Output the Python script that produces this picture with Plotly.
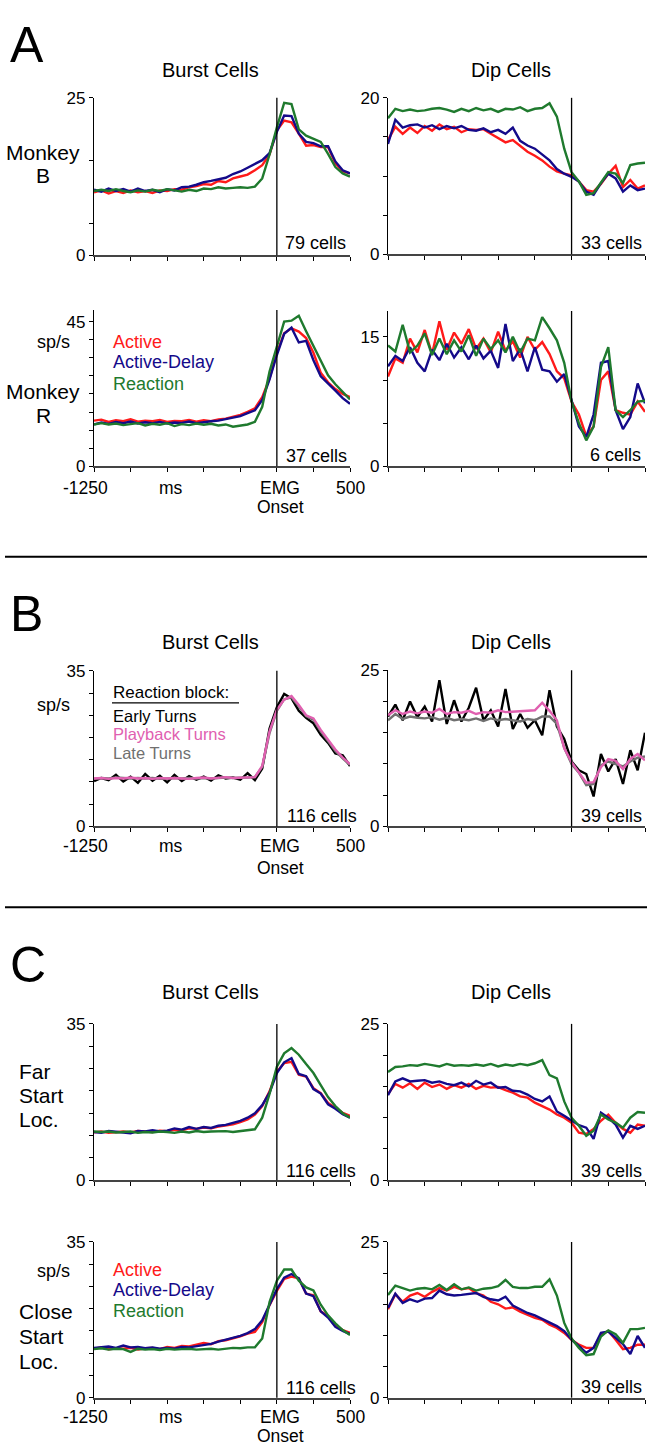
import plotly.graph_objects as go

W, H = 647, 1456
FONT = "Arial, Liberation Sans, sans-serif"

RED = "#ff1a1a"
BLUE = "#140a8a"
GREEN = "#1f7a2e"
PINK = "#e060b0"
GRAY = "#707070"
BLACK = "#000000"

times = [-1250, -1200, -1150, -1100, -1050, -1000, -950, -900, -850, -800, -750, -700,
         -650, -600, -550, -500, -450, -400, -350, -300, -250, -200, -150, -100,
         -50, 0, 50, 100, 150, 200, 250, 300, 350, 400, 450, 500]
x_ticks = [-1250, -1000, -750, -500, -250, 0, 250, 500]

# ---- Panel A, Monkey B, Burst cells (79 cells)
aB_burst_active = [10.0, 10.3, 9.8, 10.2, 9.9, 10.3,
                   10.0, 10.2, 9.9, 10.3, 10.2, 10.5,
                   10.4, 10.8, 11.0, 11.3, 11.2, 11.8,
                   11.6, 12.2, 12.5, 12.8, 13.5, 14.3,
                   16.0, 19.8, 21.4, 21.1, 19.3, 17.4,
                   17.5, 17.2, 17.2, 14.6, 13.3, 13.0]
aB_burst_delay = [10.4, 10.1, 10.6, 10.2, 10.5, 10.1,
                  10.6, 10.2, 10.4, 10.0, 10.5, 10.3,
                  10.8, 10.9, 11.2, 11.6, 11.8, 12.0,
                  12.3, 12.9, 13.3, 13.9, 14.5, 15.1,
                  16.2, 19.6, 22.2, 22.1, 19.3, 18.0,
                  17.8, 17.3, 17.3, 14.9, 13.5, 13.0]
aB_burst_react = [10.2, 10.4, 10.2, 10.5, 10.2, 10.0,
                  10.3, 10.1, 10.4, 10.2, 10.5, 10.3,
                  10.1, 10.4, 10.2, 10.6, 10.5, 10.8,
                  10.6, 10.7, 10.8, 10.7, 10.9, 12.2,
                  16.0, 20.3, 24.2, 24.0, 20.0, 19.0,
                  18.5, 18.0, 16.1, 14.0, 13.0, 12.5]

# ---- Panel A, Monkey B, Dip cells (33 cells)
aB_dip_active = [14.6, 16.3, 15.4, 16.2, 15.5, 16.4,
                 15.8, 16.6, 16.0, 16.3, 15.6, 16.0,
                 15.9, 16.0, 15.4, 14.8, 14.3, 14.6,
                 13.9, 13.1, 12.6, 12.0, 11.2, 10.6,
                 10.3, 10.1, 9.3, 8.2, 8.0, 9.0,
                 10.3, 11.3, 8.6, 9.5, 8.4, 8.8]
aB_dip_delay = [14.1, 17.2, 16.2, 16.5, 16.6, 16.2,
                16.5, 16.0, 16.4, 16.1, 16.4, 15.9,
                15.8, 16.1, 15.6, 15.9, 15.4, 16.2,
                14.5, 13.9, 13.5, 12.8, 12.0, 10.9,
                10.3, 9.9, 9.3, 8.0, 7.6, 9.1,
                10.3, 9.7, 8.0, 8.8, 8.2, 8.4]
aB_dip_react = [17.4, 18.6, 18.3, 18.5, 18.3, 18.4,
                18.6, 18.7, 18.5, 18.2, 18.6, 18.3,
                18.7, 18.4, 18.6, 18.2, 18.6, 18.5,
                18.8, 18.3, 18.6, 18.7, 19.3, 17.6,
                13.5, 10.5, 9.3, 7.6, 7.8, 9.1,
                10.5, 10.3, 9.1, 11.4, 11.6, 11.7]

# ---- Panel A, Monkey R, Burst cells (37 cells)
aR_burst_active = [14.2, 14.5, 13.8, 14.3, 14.0, 14.6,
                   13.9, 14.2, 14.0, 14.4, 13.8, 14.1,
                   14.0, 14.4, 13.9, 14.3, 14.0, 14.6,
                   14.8, 15.3, 16.0, 16.9, 18.0, 21.5,
                   27.3, 35.3, 41.4, 42.9, 41.9, 39.9,
                   35.3, 29.1, 26.1, 24.0, 22.5, 21.5]
aR_burst_delay = [13.0, 13.6, 13.2, 13.8, 13.4, 13.9,
                  13.3, 13.7, 13.4, 13.8, 13.3, 13.6,
                  13.5, 13.9, 13.4, 13.8, 14.0, 14.2,
                  14.6, 15.0, 15.6, 16.5, 17.4, 20.6,
                  27.0, 34.6, 41.2, 43.1, 38.5, 39.0,
                  33.0, 28.0, 25.6, 23.5, 21.2, 19.4]
aR_burst_react = [13.0, 13.4, 13.0, 13.3, 12.8, 13.1,
                  13.4, 12.7, 13.2, 12.9, 13.4, 12.5,
                  13.1, 12.8, 13.3, 12.9, 13.2, 12.7,
                  13.0, 12.3, 12.6, 13.0, 13.8, 18.5,
                  29.5, 37.3, 45.0, 45.3, 46.8, 42.0,
                  37.5, 32.5, 28.3, 25.5, 23.0, 20.8]

# ---- Panel A, Monkey R, Dip cells (6 cells)
aR_dip_active = [10.4, 12.5, 12.0, 14.8, 13.2, 15.8,
                 13.0, 16.8, 13.5, 15.5, 14.2, 15.9,
                 13.6, 14.8, 13.2, 15.6, 13.4, 14.5,
                 12.6, 15.0, 13.5, 14.4, 13.0, 11.0,
                 10.2, 7.5, 6.0, 3.5, 4.6, 10.0,
                 11.0, 6.5, 6.2, 6.0, 7.5, 6.3]
aR_dip_delay = [11.6, 12.8, 12.2, 13.8, 12.0, 11.0,
                13.5, 12.3, 14.2, 12.6, 13.8, 12.4,
                14.0, 12.5, 13.4, 11.4, 16.5, 12.2,
                13.6, 11.0, 13.8, 11.2, 11.0, 9.8,
                10.7, 7.6, 4.6, 3.4, 6.0, 12.0,
                12.2, 6.5, 4.3, 5.7, 9.6, 7.3]
aR_dip_react = [14.0, 13.3, 16.4, 13.2, 14.0, 15.4,
                12.9, 14.8, 13.0, 14.6, 13.3, 15.2,
                12.8, 14.8, 13.6, 14.6, 13.2, 15.0,
                13.2, 14.8, 14.6, 17.3, 16.0, 14.6,
                12.0, 7.5, 5.0, 3.0, 4.6, 11.5,
                13.8, 6.5, 5.7, 6.5, 7.5, 7.6]

# ---- Panel B, Burst cells (116 cells)
b_burst_early = [10.2, 10.9, 10.4, 11.6, 10.1, 11.2,
                 9.8, 11.8, 10.3, 11.4, 9.9, 11.6,
                 10.2, 11.3, 10.5, 11.2, 10.3, 11.5,
                 10.8, 11.0, 10.5, 12.0, 10.4, 13.0,
                 22.0, 26.8, 29.8, 28.8, 26.0, 24.4,
                 23.2, 20.6, 18.8, 16.4, 16.0, 13.6]
b_burst_late = [10.7, 10.9, 10.8, 11.0, 10.9, 10.8,
                10.9, 10.8, 10.9, 10.7, 10.8, 10.9,
                10.8, 10.9, 10.8, 10.9, 10.8, 10.9,
                11.0, 10.9, 10.9, 11.0, 11.1, 13.4,
                21.0, 26.0, 28.6, 29.0, 27.0, 24.8,
                24.0, 21.4, 19.2, 17.0, 15.3, 13.8]
b_burst_playback = [10.8, 10.9, 10.7, 10.9, 10.8, 11.0,
                    10.8, 10.9, 10.7, 10.9, 10.8, 10.9,
                    10.8, 10.7, 10.9, 11.0, 10.8, 10.9,
                    11.1, 10.9, 11.0, 11.1, 11.1, 13.6,
                    21.4, 26.2, 28.5, 29.3, 27.3, 25.0,
                    24.3, 21.7, 19.5, 17.3, 15.5, 14.0]

# ---- Panel B, Dip cells (39 cells)
b_dip_early = [17.6, 19.5, 17.0, 20.0, 17.5, 19.2,
               16.8, 23.4, 16.4, 20.2, 16.8, 19.0,
               22.2, 17.0, 18.6, 16.0, 22.0, 15.6,
               18.0, 15.8, 17.0, 14.6, 21.8, 16.0,
               14.0, 10.4, 9.0, 8.4, 4.8, 11.6,
               8.8, 10.8, 6.8, 12.2, 9.0, 15.0]
b_dip_late = [17.0, 18.0, 17.2, 17.6, 17.4, 17.3,
              17.5, 17.1, 17.4, 17.0, 17.2, 17.0,
              17.3, 16.9, 17.3, 17.0, 17.2, 17.0,
              16.8, 17.2, 17.0, 17.6, 17.6, 16.4,
              12.6, 10.0, 8.6, 6.6, 6.8, 9.8,
              10.4, 10.0, 9.6, 10.4, 11.0, 11.2]
b_dip_playback = [17.8, 18.6, 18.0, 18.4, 18.1, 18.4,
                  18.2, 18.8, 18.0, 18.3, 18.2, 18.5,
                  18.0, 18.3, 18.2, 18.6, 18.3, 18.4,
                  18.4, 18.5, 18.6, 19.8, 18.5, 17.0,
                  12.5, 10.3, 8.6, 7.0, 7.1, 9.5,
                  10.8, 10.5, 9.2, 10.8, 11.6, 10.6]

# ---- Panel C, Far start location, Burst cells (116 cells)
cF_burst_active = [10.7, 10.9, 10.6, 10.8, 10.9, 10.7,
                   11.0, 10.9, 10.8, 11.1, 11.0, 11.3,
                   11.2, 11.6, 11.5, 11.8, 11.6, 12.0,
                   12.2, 12.5, 13.0, 13.6, 14.7, 16.6,
                   19.9, 24.3, 26.2, 26.5, 23.6, 23.2,
                   20.6, 19.5, 17.3, 16.2, 15.1, 14.4]
cF_burst_delay = [10.8, 10.6, 11.0, 10.8, 10.7, 10.5,
                  11.0, 10.9, 11.2, 10.9, 11.1, 11.6,
                  11.3, 11.9, 11.5, 11.9, 11.7, 12.2,
                  12.4, 12.8, 13.3, 14.0, 15.0, 16.8,
                  19.6, 24.0, 26.4, 27.3, 23.8, 23.3,
                  20.4, 19.4, 17.0, 16.0, 14.8, 14.0]
cF_burst_react = [10.9, 10.8, 10.9, 10.7, 10.8, 10.9,
                  10.6, 10.8, 10.7, 10.9, 10.8, 10.6,
                  10.9, 10.7, 11.0, 10.8, 10.9, 11.0,
                  11.0, 10.8, 11.0, 11.1, 11.4, 14.0,
                  19.3, 25.4, 28.4, 29.6, 28.1, 26.0,
                  24.0, 21.3, 18.6, 16.6, 15.0, 14.0]

# ---- Panel C, Far start location, Dip cells (39 cells)
cF_dip_active = [13.8, 15.4, 14.8, 15.5, 14.6, 15.6,
                 14.9, 15.3, 14.6, 15.2, 14.8, 15.4,
                 14.6, 15.1, 14.8, 14.9, 14.4, 14.0,
                 13.4, 13.2, 12.4, 11.8, 11.3, 10.5,
                 10.0, 9.2, 7.6, 7.4, 8.2, 9.5,
                 10.5, 9.2, 8.2, 7.6, 8.9, 8.7]
cF_dip_delay = [13.6, 15.8, 16.3, 15.8, 15.9, 16.0,
                15.6, 15.8, 15.4, 15.2, 15.6, 15.0,
                15.9, 15.3, 15.6, 14.8, 14.9, 14.3,
                14.2, 13.7, 13.0, 12.6, 13.4, 11.0,
                10.3, 9.5, 8.8, 8.4, 6.6, 10.8,
                10.0, 8.9, 6.8, 8.7, 8.2, 8.7]
cF_dip_react = [17.3, 18.1, 18.2, 18.4, 18.3, 18.6,
                18.4, 18.2, 18.6, 18.3, 18.4, 18.3,
                18.5, 18.3, 18.6, 18.2, 18.5, 18.3,
                18.6, 18.4, 18.7, 19.2, 16.8, 16.3,
                12.6, 10.0, 8.7, 7.1, 7.9, 10.5,
                9.7, 9.2, 8.4, 10.0, 10.9, 10.8]

# ---- Panel C, Close start location, Burst cells (116 cells)
cC_burst_active = [11.0, 11.3, 10.9, 11.1, 11.0, 11.2,
                   10.8, 11.1, 11.2, 10.9, 11.4, 11.2,
                   11.6, 11.5, 11.9, 12.3, 12.0, 12.7,
                   12.9, 13.3, 13.8, 14.4, 14.8, 17.0,
                   20.8, 24.0, 26.7, 27.2, 26.8, 23.4,
                   23.0, 19.4, 18.3, 16.2, 15.2, 14.6]
cC_burst_delay = [11.2, 11.4, 11.5, 11.2, 11.7, 11.3,
                  11.4, 11.1, 11.3, 11.0, 11.2, 11.0,
                  11.4, 11.3, 11.6, 11.9, 12.1, 12.6,
                  13.0, 13.4, 13.9, 14.5, 15.4, 17.4,
                  21.0, 24.4, 27.0, 27.8, 26.8, 23.4,
                  22.8, 19.4, 18.0, 15.9, 15.0, 14.3]
cC_burst_react = [10.9, 11.1, 10.8, 11.0, 10.9, 10.3,
                  11.0, 10.8, 10.9, 10.7, 11.0, 10.8,
                  10.9, 11.0, 10.8, 10.9, 11.0, 10.8,
                  11.0, 11.2, 11.1, 11.3, 11.3, 13.3,
                  21.5, 26.3, 28.8, 28.8, 26.3, 24.8,
                  24.1, 20.9, 18.5, 16.7, 15.2, 14.1]

# ---- Panel C, Close start location, Dip cells (39 cells)
cC_dip_active = [14.2, 16.6, 15.4, 16.4, 16.8, 16.2,
                 17.0, 17.6, 17.2, 17.8, 17.4, 17.6,
                 16.8, 16.4, 15.4, 15.0, 14.3, 14.5,
                 13.8, 13.3, 12.8, 12.5, 11.7, 11.2,
                 10.4, 9.3, 8.5, 8.0, 8.0, 10.1,
                 10.7, 9.3, 7.8, 8.0, 8.5, 8.5]
cC_dip_delay = [14.4, 16.7, 15.2, 15.8, 15.4, 15.9,
                16.0, 17.2, 16.6, 16.4, 16.5, 16.6,
                16.8, 16.2, 15.8, 15.6, 16.2, 14.8,
                14.2, 13.6, 13.2, 12.6, 12.0, 11.5,
                10.7, 9.3, 8.3, 7.2, 8.0, 10.4,
                10.6, 9.6, 8.6, 7.0, 9.9, 8.0]
cC_dip_react = [16.5, 18.0, 17.6, 17.2, 17.5, 17.6,
                17.4, 18.1, 17.3, 18.2, 17.4, 17.7,
                17.2, 17.5, 17.6, 17.9, 18.9, 17.8,
                17.6, 17.6, 17.8, 17.8, 19.0, 16.4,
                12.0, 9.5, 8.0, 6.8, 7.0, 9.8,
                10.8, 10.2, 8.8, 11.0, 11.0, 11.2]

cell_counts = ["79 cells", "33 cells", "37 cells", "6 cells", "116 cells",
               "39 cells", "116 cells", "39 cells", "116 cells", "39 cells"]


def ticks_every(step, top):
    v, out = 0.0, []
    while v <= top + 1e-9:
        out.append(round(v, 4))
        v += step
    return out


L_X = (94, 350)
R_X = (388, 645)

panels = [
    dict(x=L_X, top=90, bot=249.5, ymax=25, tv=[0, 5, 15, 25], lab={0: "0", 25: "25"},
         series=[(aB_burst_active, RED), (aB_burst_delay, BLUE), (aB_burst_react, GREEN)]),
    dict(x=R_X, top=90, bot=248.5, ymax=20, tv=ticks_every(5, 20), lab={0: "0", 20: "20"},
         series=[(aB_dip_active, RED), (aB_dip_delay, BLUE), (aB_dip_react, GREEN)]),
    dict(x=L_X, top=305, bot=463.3, ymax=48.6, tv=ticks_every(5.625, 45), lab={0: "0", 45: "45"},
         series=[(aR_burst_active, RED), (aR_burst_delay, BLUE), (aR_burst_react, GREEN)]),
    dict(x=R_X, top=306, bot=463.3, ymax=18, tv=ticks_every(5, 15), lab={0: "0", 15: "15"},
         series=[(aR_dip_active, RED), (aR_dip_delay, BLUE), (aR_dip_react, GREEN)]),
    dict(x=L_X, top=670.5, bot=828.3, ymax=35, tv=ticks_every(5, 35), lab={0: "0", 35: "35"},
         series=[(b_burst_early, BLACK), (b_burst_late, GRAY), (b_burst_playback, PINK)]),
    dict(x=R_X, top=670, bot=828.3, ymax=25, tv=ticks_every(5, 25), lab={0: "0", 25: "25"},
         series=[(b_dip_early, BLACK), (b_dip_late, GRAY), (b_dip_playback, PINK)]),
    dict(x=L_X, top=1028.3, bot=1186.7, ymax=35, tv=ticks_every(5, 35), lab={0: "0", 35: "35"},
         series=[(cF_burst_active, RED), (cF_burst_delay, BLUE), (cF_burst_react, GREEN)]),
    dict(x=R_X, top=1028.3, bot=1186.7, ymax=25, tv=ticks_every(5, 25), lab={0: "0", 25: "25"},
         series=[(cF_dip_active, RED), (cF_dip_delay, BLUE), (cF_dip_react, GREEN)]),
    dict(x=L_X, top=1249.3, bot=1407, ymax=35, tv=ticks_every(5, 35), lab={0: "0", 35: "35"},
         series=[(cC_burst_active, RED), (cC_burst_delay, BLUE), (cC_burst_react, GREEN)]),
    dict(x=R_X, top=1249.3, bot=1407, ymax=25, tv=ticks_every(5, 25), lab={0: "0", 25: "25"},
         series=[(cC_dip_active, RED), (cC_dip_delay, BLUE), (cC_dip_react, GREEN)]),
]

for p in panels:
    for s, _ in p["series"]:
        assert len(s) == len(times), len(s)


def px(x):
    return x / W


def py(y):
    return 1 - y / H


fig = go.Figure()
layout = dict(width=W, height=H, margin=dict(l=0, r=0, t=0, b=0),
              paper_bgcolor="white", plot_bgcolor="white", showlegend=False,
              font=dict(family=FONT, size=18, color="black"))
shapes = []
annotations = []

for k, p in enumerate(panels, start=1):
    xs = "" if k == 1 else str(k)
    for s, c in p["series"]:
        fig.add_trace(go.Scatter(x=times, y=s, mode="lines", xaxis="x" + xs, yaxis="y" + xs,
                                 line=dict(color=c, width=2.4), hoverinfo="skip"))
    layout["xaxis" + xs] = dict(
        domain=[px(p["x"][0]), px(p["x"][1])], range=[-1250, 500], anchor="y" + xs,
        tickvals=x_ticks, showticklabels=False, ticks="outside", ticklen=4, tickwidth=1.2,
        tickcolor="black", showline=True, linecolor="#444444", linewidth=1.8,
        showgrid=False, zeroline=False, fixedrange=True)
    layout["yaxis" + xs] = dict(
        domain=[py(p["bot"]), py(p["top"])], range=[0, p["ymax"]], anchor="x" + xs,
        tickvals=p["tv"], ticktext=[p["lab"].get(v, "") for v in p["tv"]],
        ticks="outside", ticklen=4, tickwidth=1.2, tickcolor="black",
        showline=True, linecolor="black", linewidth=1.3,
        showgrid=False, zeroline=False, tickfont=dict(size=17, family=FONT),
        fixedrange=True)
    shapes.append(dict(type="line", xref="x" + xs, yref=("y" + xs) + " domain",
                       x0=0, x1=0, y0=0, y1=1, line=dict(color="black", width=1.3)))


def ann(text, x, y, size=18, color="black", xanchor="center"):
    annotations.append(dict(text=text, x=px(x), y=py(y), xref="paper", yref="paper",
                            xanchor=xanchor, yanchor="middle", showarrow=False,
                            font=dict(size=size, color=color, family=FONT)))


# cell counts
cell_pos = [(283, 237), (579, 237), (284, 453), (588, 452), (285, 818),
            (579, 818), (284, 1177), (579, 1177), (284, 1397), (579, 1396)]
for txt, (cx, cy) in zip(cell_counts, cell_pos):
    ann(txt, cx, cy, size=18, xanchor="left")

# panel letters
ann("A", 8, 36, size=50, xanchor="left")
ann("B", 8, 613, size=50, xanchor="left")
ann("C", 8, 969, size=50, xanchor="left")

# column titles
for ty in (62, 641, 996):
    ann("Burst Cells", 210, ty, size=20)
    ann("Dip Cells", 511, ty, size=20)

# row labels (one annotation per text line)
ann("Monkey", 43, 145, size=21)
ann("B", 43, 169, size=21)
ann("Monkey", 43, 388, size=21)
ann("R", 43, 412, size=21)
for txt, ly in (("Far", 1077), ("Start", 1101), ("Loc.", 1125)):
    ann(txt, 17, ly, size=21, xanchor="left")
for txt, ly in (("Close", 1320), ("Start", 1345), ("Loc.", 1370)):
    ann(txt, 17, ly, size=21, xanchor="left")

# units
for uy in (337, 705, 1279):
    ann("sp/s", 53, uy, size=18)

# legends
ann("Active", 111, 337, color=RED, xanchor="left")
ann("Active-Delay", 111, 358, color=BLUE, xanchor="left")
ann("Reaction", 111, 380, color=GREEN, xanchor="left")
ann("Reaction block:", 111, 693, size=17, xanchor="left")
ann("Early Turns", 111, 716, size=16.5, xanchor="left")
ann("Playback Turns", 111, 735, size=16.5, color=PINK, xanchor="left")
ann("Late Turns", 111, 754, size=16.5, color=GRAY, xanchor="left")
ann("Active", 111, 1278, color=RED, xanchor="left")
ann("Active-Delay", 111, 1298, color=BLUE, xanchor="left")
ann("Reaction", 111, 1319, color=GREEN, xanchor="left")
shapes.append(dict(type="line", xref="paper", yref="paper", x0=px(112), x1=px(239),
                   y0=py(703), y1=py(703), line=dict(color="black", width=1.2)))

# x axis labels
for ly, oy in ((485, 505), (848, 870), (1427, 1446)):
    ann("-1250", 85, ly, size=17.5)
    ann("ms", 171, ly, size=17.5)
    ann("EMG", 280, ly, size=17.5)
    ann("Onset", 280, oy, size=17.5)
    ann("500", 350, ly, size=17.5)

# separators
for sy in (555, 910):
    shapes.append(dict(type="line", xref="paper", yref="paper", x0=px(5), x1=1,
                       y0=py(sy), y1=py(sy), line=dict(color="black", width=2)))

layout["shapes"] = shapes
layout["annotations"] = annotations
fig.update_layout(**layout)
fig.write_html("out.html", config={"displayModeBar": False},
               post_script="document.body.style.margin='0';document.body.style.padding='0';document.body.style.overflow='hidden';")
